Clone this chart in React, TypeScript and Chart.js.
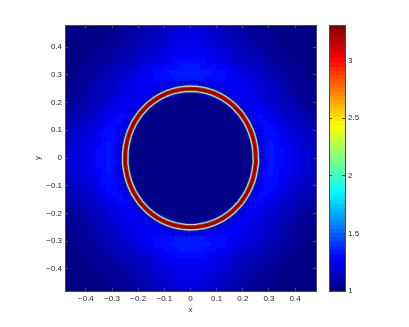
import React, { useEffect, useRef } from "react";
import { Chart, registerables } from "chart.js";

Chart.register(...registerables);

const tickValues = [-0.4, -0.3, -0.2, -0.1, 0, 0.1, 0.2, 0.3, 0.4];
const tickLabels = ["\u22120.4", "\u22120.3", "\u22120.2", "\u22120.1", "0", "0.1", "0.2", "0.3", "0.4"];
const colorbarTicks = [1, 1.5, 2, 2.5, 3];
const colorbarLabels = ["1", "1.5", "2", "2.5", "3"];
const valueMin = 1;
const valueMax = 3.31;

// Cell centres of one quadrant, |x| and |y|.
const cellCentres = [0.01, 0.03, 0.05, 0.07, 0.09, 0.11, 0.13, 0.15, 0.17, 0.19, 0.21, 0.23, 0.25, 0.27, 0.29, 0.31, 0.33, 0.35, 0.37, 0.39, 0.41, 0.43, 0.45, 0.47];

// Field values; one row per |y|, one column per |x|.
const fieldRows = [
  [1,1,1,1,1,1,1,1,1,1,1,1,1.28,1.28,1.31,1.33,1.31,1.29,1.27,1.25,1.23,1.21,1.19,1.18],
  [1,1,1,1,1,1,1,1,1,1,1,1,1.28,1.28,1.31,1.33,1.31,1.29,1.27,1.25,1.23,1.21,1.19,1.18],
  [1,1,1,1,1,1,1,1,1,1,1,1,1.28,1.28,1.31,1.33,1.31,1.28,1.26,1.24,1.22,1.20,1.18,1.17],
  [1,1,1,1,1,1,1,1,1,1,1,1,1.28,1.28,1.30,1.32,1.30,1.28,1.25,1.23,1.21,1.19,1.17,1.16],
  [1,1,1,1,1,1,1,1,1,1,1,1.20,1.28,1.28,1.30,1.31,1.29,1.26,1.23,1.21,1.19,1.17,1.16,1.15],
  [1,1,1,1,1,1,1,1,1,1,1,1.25,1.28,1.28,1.30,1.30,1.27,1.24,1.21,1.19,1.17,1.16,1.14,1.13],
  [1,1,1,1,1,1,1,1,1,1,1.20,1.27,1.28,1.29,1.30,1.28,1.25,1.22,1.19,1.17,1.15,1.14,1.12,1.11],
  [1,1,1,1,1,1,1,1,1,1.20,1.26,1.28,1.29,1.29,1.28,1.26,1.23,1.20,1.17,1.15,1.13,1.12,1.10,1.09],
  [1,1,1,1,1,1,1,1,1.20,1.26,1.27,1.28,1.28,1.27,1.25,1.23,1.21,1.18,1.15,1.13,1.11,1.10,1.09,1.08],
  [1,1,1,1,1,1,1,1.20,1.26,1.26,1.27,1.27,1.26,1.24,1.22,1.20,1.18,1.16,1.14,1.12,1.10,1.08,1.07,1.06],
  [1,1,1,1,1,1.20,1.25,1.26,1.26,1.27,1.27,1.26,1.24,1.22,1.20,1.18,1.16,1.14,1.12,1.10,1.08,1.07,1.06,1.05],
  [1,1,1.15,1.25,1.26,1.27,1.27,1.27,1.27,1.28,1.27,1.25,1.23,1.21,1.19,1.17,1.15,1.13,1.11,1.09,1.07,1.06,1.05,1.04],
  [1.28,1.28,1.28,1.28,1.28,1.28,1.28,1.28,1.28,1.27,1.25,1.24,1.22,1.20,1.18,1.16,1.14,1.12,1.10,1.08,1.06,1.05,1.04,1.03],
  [1.28,1.28,1.28,1.28,1.28,1.28,1.28,1.28,1.28,1.27,1.25,1.23,1.21,1.19,1.17,1.15,1.13,1.11,1.09,1.07,1.06,1.05,1.04,1.03],
  [1.33,1.33,1.33,1.32,1.31,1.30,1.29,1.28,1.27,1.25,1.23,1.21,1.19,1.17,1.15,1.13,1.11,1.09,1.08,1.06,1.05,1.04,1.03,1.03],
  [1.35,1.35,1.34,1.33,1.32,1.30,1.29,1.27,1.25,1.23,1.21,1.19,1.17,1.15,1.13,1.11,1.10,1.08,1.07,1.06,1.05,1.04,1.03,1.02],
  [1.33,1.33,1.32,1.31,1.30,1.28,1.26,1.24,1.22,1.20,1.18,1.16,1.15,1.13,1.11,1.10,1.08,1.07,1.06,1.05,1.04,1.03,1.03,1.02],
  [1.30,1.30,1.29,1.28,1.27,1.25,1.23,1.21,1.19,1.18,1.16,1.14,1.13,1.11,1.10,1.08,1.07,1.06,1.05,1.04,1.03,1.03,1.02,1.02],
  [1.28,1.28,1.27,1.26,1.25,1.23,1.21,1.19,1.17,1.16,1.14,1.12,1.11,1.09,1.08,1.07,1.06,1.05,1.04,1.03,1.03,1.02,1.02,1.01],
  [1.26,1.26,1.25,1.24,1.23,1.21,1.19,1.17,1.15,1.14,1.12,1.10,1.09,1.08,1.07,1.06,1.05,1.04,1.03,1.03,1.02,1.02,1.01,1.01],
  [1.25,1.24,1.24,1.23,1.21,1.19,1.17,1.16,1.14,1.12,1.11,1.09,1.08,1.07,1.06,1.05,1.04,1.03,1.03,1.02,1.02,1.01,1.01,1.01],
  [1.23,1.23,1.22,1.21,1.20,1.18,1.16,1.14,1.13,1.11,1.09,1.08,1.07,1.06,1.05,1.04,1.03,1.03,1.02,1.02,1.01,1.01,1.01,1.01],
  [1.22,1.22,1.21,1.20,1.18,1.16,1.15,1.13,1.11,1.10,1.08,1.07,1.06,1.05,1.04,1.03,1.03,1.02,1.02,1.01,1.01,1.01,1.01,1.00],
  [1.21,1.20,1.20,1.18,1.17,1.15,1.13,1.12,1.10,1.09,1.07,1.06,1.05,1.04,1.03,1.03,1.02,1.02,1.01,1.01,1.01,1.01,1.00,1.00],
];

// Crest of the ring, read every 5 degrees around the picture (first quadrant; the others mirror it).
const ringQuarterX = [0.25,0.249,0.246,0.2415,0.235,0.2266,0.217,0.2048,0.192,0.1768,0.161,0.1434,0.125,0.1057,0.086,0.0647,0.043,0.0218,0];
const ringQuarterY = [0,0.0218,0.043,0.0647,0.086,0.1057,0.125,0.1434,0.161,0.1768,0.192,0.2048,0.217,0.2266,0.235,0.2415,0.246,0.249,0.25];

// Values met going from the edge of the ring to its crest.
const ringLevels = [1.35, 1.6, 1.85, 2.1, 2.4, 2.65, 2.85, 3.0, 3.15, 3.31];

const ringStrokes = [7.8, 7.2, 6.6, 5.8, 5, 4.6, 4.2, 3.7, 2.9, 1.9];
const haloScales = [1.065, 1.105, 1.15];
const haloAlpha = [0.8, 0.6, 0.35];

function jet(value: number): string {
  const t = Math.min(1, Math.max(0, (value - valueMin) / (valueMax - valueMin)));
  const k = (Math.floor(t * 63.999) + 0.5) / 64;
  const c = (o: number) => Math.round(255 * Math.min(1, Math.max(0, 1.5 - Math.abs(4 * k - o))));
  return `rgb(${c(3)},${c(2)},${c(1)})`;
}

const fontFamily = "'Liberation Sans', Arial, sans-serif";
const tickFont = { family: fontFamily, size: 8 };
const inkColor = "#262626";
const edgeColor = "#4a4a4a";
const fieldCellRadius = 4.6;

function inwardAxis(position: string, size: number, extra: any) {
  return {
    position,
    afterFit: (s: any) => {
      if (position === "left" || position === "right") s.width = size;
      else s.height = size;
    },
    afterBuildTicks: (s: any) => {
      s.ticks = extra.values.map((value: number) => ({ value }));
    },
    grid: { drawOnChartArea: false, tickLength: -3, tickColor: edgeColor, tickWidth: 1, z: 1 },
    border: { display: true, color: edgeColor, width: 1, z: 1 },
    ticks: {
      display: !!extra.labels,
      padding: 6,
      font: tickFont,
      color: inkColor,
      maxRotation: 0,
      autoSkip: false,
      callback: (_v: any, i: number) => (extra.labels ? extra.labels[i] : ""),
    },
    title: extra.title
      ? { display: true, text: extra.title, font: tickFont, color: inkColor, padding: 0 }
      : { display: false },
    min: extra.min,
    max: extra.max,
    type: "linear",
  };
}

export default function App() {
  const mainRef = useRef<HTMLCanvasElement>(null);
  const barRef = useRef<HTMLCanvasElement>(null);

  useEffect(() => {
    const cells: { x: number; y: number; v: number }[] = [];
    const signs = [-1, 1];
    fieldRows.forEach((row, j) =>
      row.forEach((v, i) =>
        signs.forEach((sx) =>
          signs.forEach((sy) => cells.push({ x: sx * cellCentres[i], y: sy * cellCentres[j], v }))
        )
      )
    );
    cells.sort((a, b) => a.y - b.y || a.x - b.x);

    const n = ringQuarterX.length;
    const ringPoints: { x: number; y: number }[] = [];
    for (let i = 0; i < n; i++) ringPoints.push({ x: ringQuarterX[i], y: ringQuarterY[i] });
    for (let i = n - 2; i >= 0; i--) ringPoints.push({ x: -ringQuarterX[i], y: ringQuarterY[i] });
    for (let i = 1; i < n; i++) ringPoints.push({ x: -ringQuarterX[i], y: -ringQuarterY[i] });
    for (let i = n - 2; i >= 0; i--) ringPoints.push({ x: ringQuarterX[i], y: -ringQuarterY[i] });

    const haloSets = haloScales.map((scale, i) => ({
      type: "line",
      data: ringPoints.map((p) => ({ x: p.x * scale, y: p.y * scale })),
      borderColor: `rgba(0,0,70,${haloAlpha[i]})`,
      borderWidth: 1.8,
      borderDash: [1.5, 3],
      pointRadius: 0,
      tension: 0,
      order: 3,
    }));
    const ringSets = ringLevels.map((level, i) => ({
      type: "line",
      data: ringPoints,
      borderColor: jet(level),
      borderWidth: ringStrokes[i],
      borderJoinStyle: "round",
      pointRadius: 0,
      tension: 0,
      order: 2 - i * 0.1,
    }));

    const main = new Chart(mainRef.current as any, {
      type: "scatter",
      data: {
        datasets: [
          {
            data: cells,
            pointStyle: "rect",
            pointRadius: fieldCellRadius,
            pointBorderWidth: 0,
            pointBackgroundColor: cells.map((c) => jet(c.v)),
            order: 10,
          } as any,
          ...(haloSets as any[]),
          ...(ringSets as any[]),
        ],
      },
      options: {
        responsive: false,
        animation: false,
        events: [],
        layout: { padding: { left: 33, right: 93, top: 25, bottom: 12 } },
        plugins: { legend: { display: false }, tooltip: { enabled: false } },
        scales: {
          x: inwardAxis("bottom", 24, { values: tickValues, labels: tickLabels, title: "x", min: -0.48, max: 0.48 }),
          y: inwardAxis("left", 32, { values: tickValues, labels: tickLabels, title: "y", min: -0.48, max: 0.48 }),
          x2: inwardAxis("top", 0, { values: tickValues, min: -0.48, max: 0.48 }),
          y2: inwardAxis("right", 0, { values: tickValues, min: -0.48, max: 0.48 }),
        } as any,
      },
    } as any);

    const steps: number[] = [];
    for (let i = 0; i < 64; i++) steps.push(i);
    const span = (valueMax - valueMin) / 64;
    const bar = new Chart(barRef.current as any, {
      type: "bar",
      data: {
        labels: ["colour"],
        datasets: steps.map((i) => ({
          data: [[valueMin + i * span, valueMin + (i + 1) * span + 0.01]],
          backgroundColor: jet(valueMin + (i + 0.5) * span),
          borderWidth: 0,
          barPercentage: 1,
          categoryPercentage: 1,
          grouped: false,
          order: 64 - i,
        })) as any,
      },
      options: {
        responsive: false,
        animation: false,
        events: [],
        layout: { padding: { left: 329, right: 44, top: 25, bottom: 36 } },
        plugins: { legend: { display: false }, tooltip: { enabled: false } },
        scales: {
          x: { display: false },
          y: inwardAxis("right", 20, { values: colorbarTicks, labels: colorbarLabels, min: valueMin, max: valueMax }),
          y2: inwardAxis("left", 0, { values: colorbarTicks, min: valueMin, max: valueMax }),
          x2: { display: true, position: "top", afterFit: (s: any) => { s.height = 0; }, ticks: { display: false }, grid: { display: false }, border: { display: true, color: edgeColor, z: 1 } },
          x3: { display: true, position: "bottom", afterFit: (s: any) => { s.height = 0; }, ticks: { display: false }, grid: { display: false }, border: { display: true, color: edgeColor, z: 1 } },
        } as any,
      },
    } as any);

    return () => {
      main.destroy();
      bar.destroy();
    };
  }, []);

  const layer: React.CSSProperties = { position: "absolute", left: 0, top: 0 };
  return (
    <div style={{ position: "fixed", left: 0, top: 0, width: 409, height: 327, background: "#fff" }}>
      <canvas ref={mainRef} width={409} height={327} style={layer} />
      <canvas ref={barRef} width={409} height={327} style={layer} />
    </div>
  );
}
